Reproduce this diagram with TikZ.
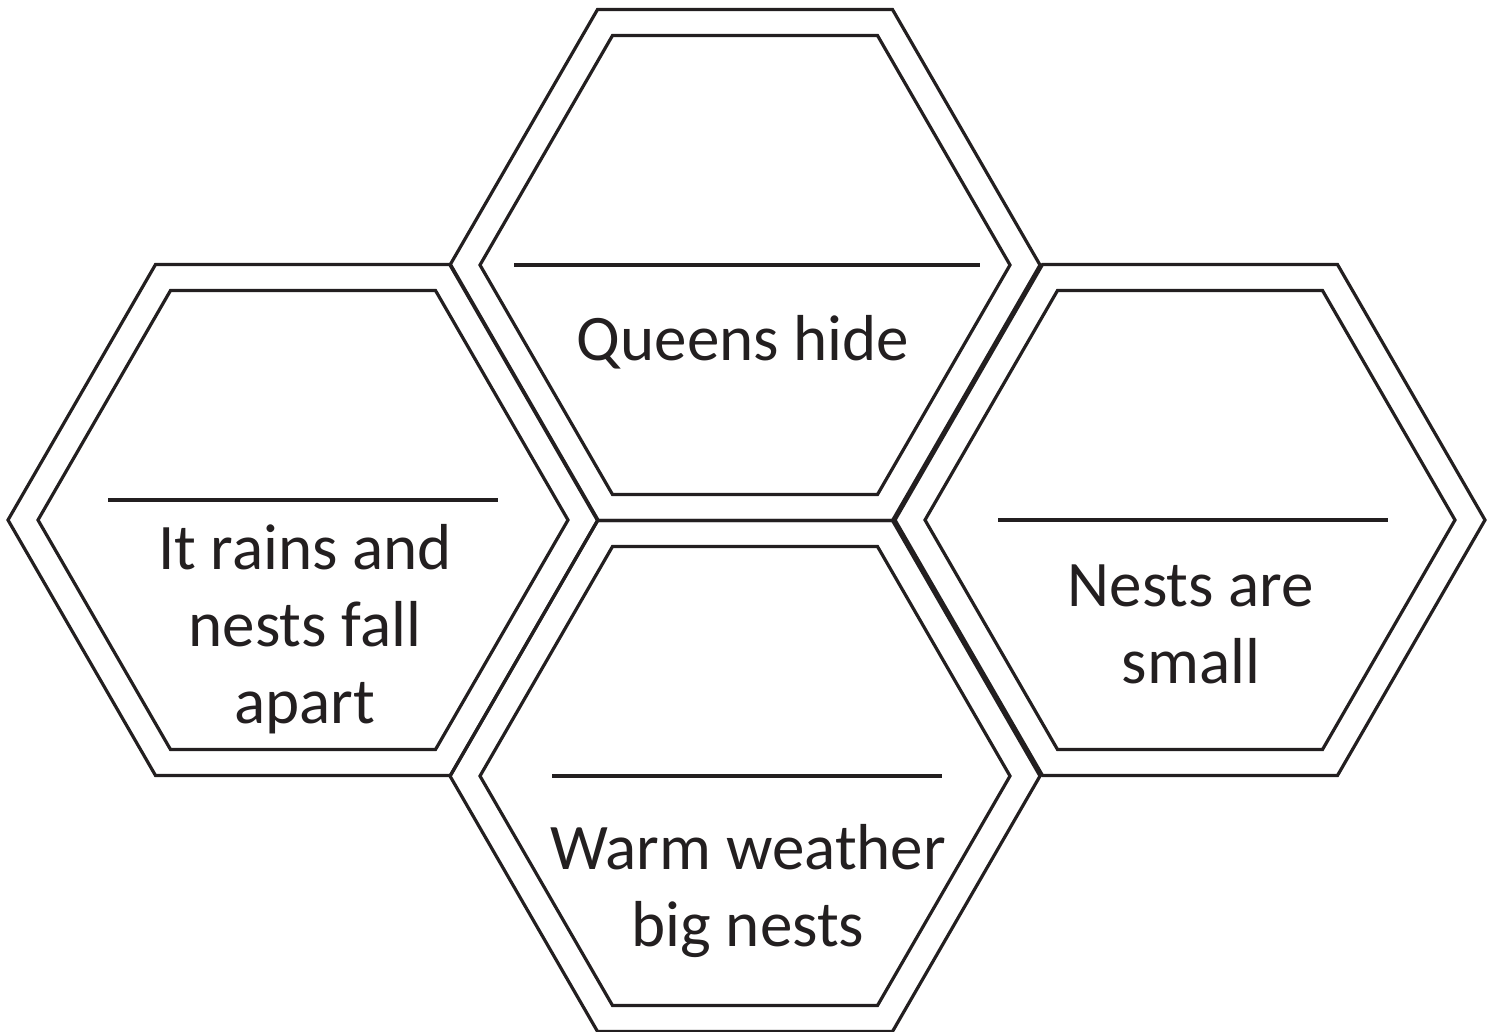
\documentclass[tikz,border=0pt]{standalone}
\usepackage{fontspec}
\setmainfont{Carlito}
\definecolor{ink}{HTML}{231F20}
\tikzset{
  hexline/.style={draw=ink, line width=3.2pt, line join=miter},
  blank/.style={draw=ink, line width=3.2pt},
  label/.style={text=ink, font=\fontsize{65}{77}\selectfont, align=center, inner sep=0pt, anchor=base},
  hexcell/.pic={
    \draw[hexline] (0:295) -- (60:295) -- (120:295) -- (180:295) -- (240:295) -- (300:295) -- cycle;
    \draw[hexline] (0:265) -- (60:265) -- (120:265) -- (180:265) -- (240:265) -- (300:265) -- cycle;
  }
}
\begin{document}
\begin{tikzpicture}[x=1pt,y=-1pt]
\useasboundingbox (0,0) rectangle (1499,1032);
\coordinate (ctop) at (745,265);
\coordinate (cleft) at (303,520);
\coordinate (cright) at (1190,520);
\coordinate (cbot) at (745,776);
\pic at (ctop) {hexcell};
\pic at (cleft) {hexcell};
\pic at (cright) {hexcell};
\pic at (cbot) {hexcell};
% answer lines
\coordinate (t1) at (514,265); \coordinate (t2) at (980,265);
\coordinate (l1) at (108,500); \coordinate (l2) at (498,500);
\coordinate (r1) at (998,520); \coordinate (r2) at (1388,520);
\coordinate (b1) at (552,776); \coordinate (b2) at (942,776);
\draw[blank] (t1) -- (t2);
\draw[blank] (l1) -- (l2);
\draw[blank] (r1) -- (r2);
\draw[blank] (b1) -- (b2);
% texts (base anchor = baseline of last line)
\node[label] (qtext) at (743,360) {Queens hide};
\node[label] (ltext) at (305,723) {It rains and\\nests fall\\apart};
\node[label] (rtext) at (1191,683) {Nests are\\small};
\node[label] (btext) at (748,946) {Warm weather\\big nests};
\end{tikzpicture}
\end{document}
